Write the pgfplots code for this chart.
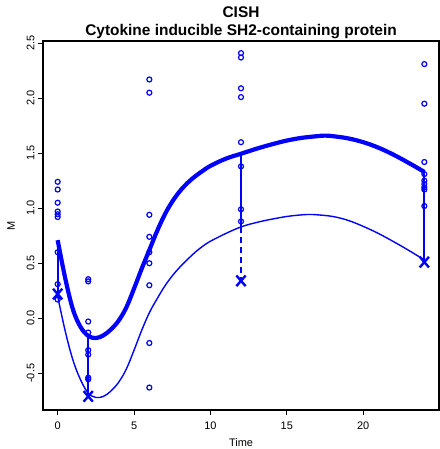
\documentclass[border=0pt]{standalone}
\usepackage{fontspec}
\setmainfont{Liberation Sans}
\usepackage{pgfplots}
\pgfplotsset{compat=1.18}
\definecolor{rblue}{RGB}{0,0,255}
\begin{document}
\begin{tikzpicture}[x=1bp,y=1bp]
\path[use as bounding box] (-43,-39) rectangle (397,410);
\begin{axis}[
  name=ax,
  at={(0,0)}, anchor=south west,
  scale only axis, width=396bp, height=369bp,
  xmin=-0.96, xmax=24.96, ymin=-0.834, ymax=2.52,
  axis line style={black, line width=1.4bp},
  xtick={0,5,10,15,20}, xticklabels={0,5,10,15,20},
  ytick={-0.5,0,0.5,1,1.5,2,2.5},
  yticklabels={-0.5,0.0,0.5,1.0,1.5,2.0,2.5},
  tick align=outside, tick pos=left,
  major tick length=5bp,
  tick style={black, line width=1bp},
  ticklabel style={font=\fontsize{11}{13}\selectfont},
  yticklabel style={rotate=90, anchor=south, xshift=0bp},
  xticklabel style={anchor=north, yshift=-3bp},
  xlabel={Time}, ylabel={M},
  label style={font=\fontsize{11}{13}\selectfont},
  xlabel style={at={(axis description cs:0.5,-0.0886)}, anchor=center},
  ylabel style={at={(axis description cs:-0.0808,0.5)}, anchor=center, rotate=0},
  every axis plot/.append style={rblue},
]
% thin curve
\addplot[rblue, line width=1.4bp, smooth, tension=0.6, no markers] coordinates {
(0,0.2)(0.5,-0.12)(1,-0.38)(1.5,-0.56)(2,-0.68)(2.5,-0.72)(3,-0.71)(3.5,-0.66)(4,-0.58)(4.5,-0.46)(5,-0.29)(5.5,-0.11)(6,0.05)(6.5,0.175)(7,0.29)(7.5,0.385)(8,0.465)(8.5,0.535)(9,0.60)(9.5,0.655)(10,0.70)(11,0.77)(12,0.83)(13,0.87)(14,0.90)(15,0.925)(16,0.94)(16.5,0.943)(17,0.94)(18,0.925)(19,0.89)(20,0.835)(21,0.77)(22,0.695)(23,0.615)(24,0.53)};
% thick curve
\addplot[rblue, line width=4.2bp, smooth, tension=0.6, no markers] coordinates {
(0,0.71)(0.5,0.36)(1,0.08)(1.5,-0.08)(2,-0.16)(2.5,-0.18)(3,-0.155)(3.5,-0.1)(4,-0.02)(4.5,0.1)(5,0.27)(5.5,0.45)(6,0.62)(6.5,0.79)(7,0.94)(7.5,1.06)(8,1.155)(8.5,1.23)(9,1.29)(9.5,1.34)(10,1.385)(11,1.45)(12,1.495)(13,1.54)(14,1.58)(15,1.615)(16,1.64)(17,1.655)(17.5,1.66)(18,1.655)(19,1.635)(20,1.60)(21,1.55)(22,1.485)(23,1.41)(24,1.33)};
% vertical segments
\addplot[rblue, line width=2bp, no markers] coordinates {(0,0.71)(0,0.2)};
\addplot[rblue, line width=2bp, no markers] coordinates {(2,-0.17)(2,-0.71)};
\addplot[rblue, line width=2bp, no markers] coordinates {(12,1.495)(12,0.83)};
\addplot[rblue, line width=2bp, no markers, dash pattern=on 6bp off 4bp] coordinates {(12,0.83)(12,0.36)};
\addplot[rblue, line width=2bp, no markers] coordinates {(24,1.33)(24,0.51)};
% data points
\addplot[rblue, only marks, mark=o, mark size=2.5bp, mark options={line width=1.2bp}] coordinates {
(0,1.24)(0,1.17)(0,1.05)(0,0.97)(0,0.945)(0,0.92)(0,0.60)(0,0.31)(0,0.17)
(2,0.355)(2,0.335)(2,-0.03)(2,-0.13)(2,-0.29)(2,-0.33)(2,-0.54)(2,-0.555)
(6,2.17)(6,2.05)(6,0.94)(6,0.74)(6,0.60)(6,0.50)(6,0.30)(6,-0.225)(6,-0.63)
(12,2.41)(12,2.37)(12,2.09)(12,2.01)(12,1.60)(12,1.38)(12,0.99)(12,0.88)
(24,2.31)(24,1.95)(24,1.42)(24,1.31)(24,1.25)(24,1.22)(24,1.19)(24,1.17)(24,1.02)};
% X marks
\addplot[rblue, only marks, mark=x, mark size=7.5bp, mark options={line width=2.4bp, xscale=0.87}] coordinates {
(0,0.22)(2,-0.71)(12,0.34)(24,0.51)};
\end{axis}
\node[font=\bfseries\fontsize{15.5}{17}\selectfont, anchor=base] at ([yshift=5.3bp]ax.north) {Cytokine inducible SH2-containing protein};
\node[font=\bfseries\fontsize{15.5}{17}\selectfont, anchor=base] at ([yshift=23bp]ax.north) {CISH};
\end{tikzpicture}
\end{document}
